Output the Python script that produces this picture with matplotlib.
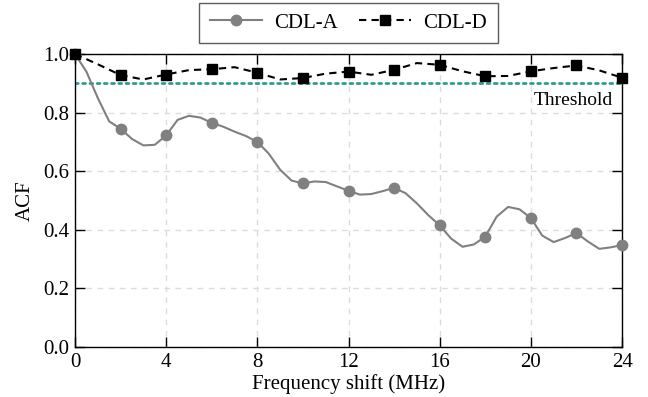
import numpy as np
import matplotlib
matplotlib.use("Agg")
import matplotlib.pyplot as plt

plt.rcParams['font.family'] = ['Liberation Serif', 'DejaVu Serif']

# CDL-A: sampled every 0.5 MHz, markers every 2 MHz
freq_a = np.arange(0, 24.01, 0.5)
acf_a = [1.0, 0.94, 0.85, 0.77, 0.745, 0.71, 0.688, 0.69, 0.722, 0.775,
         0.789, 0.783, 0.765, 0.752, 0.735, 0.72, 0.70, 0.66, 0.605, 0.568,
         0.558, 0.565, 0.563, 0.548, 0.533, 0.52, 0.522, 0.532, 0.543, 0.525,
         0.49, 0.45, 0.415, 0.37, 0.342, 0.35, 0.377, 0.445, 0.478, 0.47,
         0.44, 0.38, 0.358, 0.372, 0.389, 0.36, 0.335, 0.34, 0.348]

# CDL-D: sampled every 1 MHz, markers every 2 MHz
freq_d = np.arange(0, 25, 1)
acf_d = [1.0, 0.965, 0.928, 0.913, 0.93, 0.945, 0.948, 0.955, 0.936, 0.913,
         0.918, 0.933, 0.94, 0.929, 0.946, 0.969, 0.963, 0.941, 0.924, 0.925,
         0.941, 0.952, 0.961, 0.944, 0.919]

threshold = 0.9
xticks = [0, 4, 8, 12, 16, 20, 24]
yticks = [0.0, 0.2, 0.4, 0.6, 0.8, 1.0]

fig = plt.figure(figsize=(6.48, 3.97), dpi=100)
ax = fig.add_axes([0.1157, 0.126, 0.8443, 0.738])

ax.grid(True, color='#dcdcdc', linestyle=(0, (4, 4)), linewidth=1.0)
ax.set_axisbelow(True)

ax.axhline(threshold, color='#2a9d96', linestyle=(0, (1, 1.6)), linewidth=2.0,
           dash_capstyle='round', zorder=2)
ax.text(23.6, 0.84, 'Threshold', ha='right', va='center', fontsize=14)

ax.plot(freq_a, acf_a, color='#808080', linewidth=1.5, marker='o',
        markersize=7.5, markevery=4, label='CDL-A', zorder=3,
        solid_joinstyle='round', clip_on=False)
ax.plot(freq_d, acf_d, color='black', linewidth=1.5, linestyle=(0, (3.5, 2.5)),
        marker='s', markersize=6.5, markevery=2, label='CDL-D', zorder=4,
        clip_on=False)

ax.set_xlim(0, 24)
ax.set_ylim(0, 1.0)
ax.set_xticks(xticks)
ax.set_yticks(yticks)
ax.set_yticklabels(['%.1f' % v for v in yticks])
ax.tick_params(direction='in', length=7, width=1, top=True, right=True,
               labelsize=15, pad=4)
for s in ax.spines.values():
    s.set_linewidth(1.0)

ax.set_xlabel('Frequency shift (MHz)', fontsize=15, labelpad=2)
ax.set_ylabel('ACF', fontsize=15, labelpad=6)

leg = ax.legend(loc='lower center', bbox_to_anchor=(0.5, 1.037), ncol=2,
                fontsize=15, frameon=True, fancybox=False, handlelength=2.5,
                columnspacing=1.0, borderpad=0.5, handletextpad=0.6,
                borderaxespad=0)
leg.get_frame().set_edgecolor('#333333')
leg.get_frame().set_linewidth(1.0)

fig.savefig('out.png', dpi=100)
